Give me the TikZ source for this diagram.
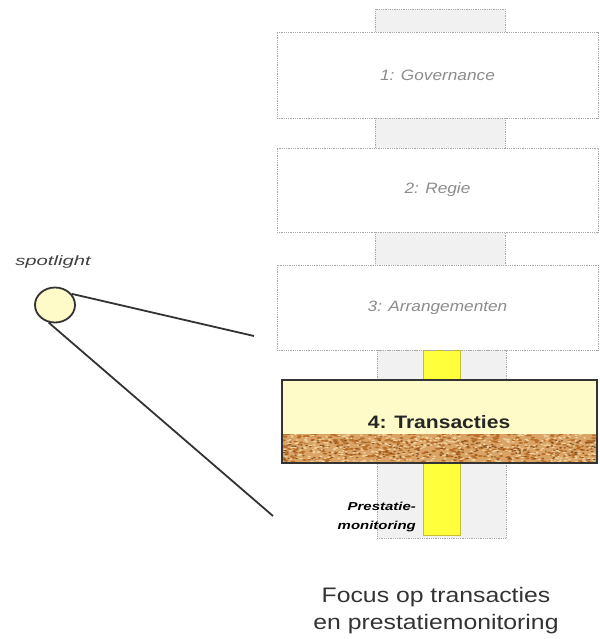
\documentclass[tikz,border=0pt]{standalone}
\usepackage{fontspec}
\setmainfont{Liberation Sans}
\usetikzlibrary{shapes.geometric}
\definecolor{lgray}{HTML}{A8A8A8}
\definecolor{tgray}{HTML}{8C8C8C}
\definecolor{cfill}{HTML}{F1F1F1}
\definecolor{pyel}{HTML}{FFFBC8}
\definecolor{syel}{HTML}{FFFF3C}
\definecolor{dline}{HTML}{333333}
\definecolor{tanA}{HTML}{D9A465}
\definecolor{tanB}{HTML}{B86E28}
\definecolor{tanC}{HTML}{F0D3A0}
\definecolor{tanD}{HTML}{8A5222}
\newcommand\wider[2]{\scalebox{#1}[1]{#2}}
\tikzset{
  layerbox/.style={draw=lgray, densely dotted, line width=0.8pt, fill=white, inner sep=0pt, text=tgray},
  linkbox/.style={draw=lgray, densely dotted, line width=0.8pt, fill=cfill, inner sep=0pt},
  beam/.style={draw=dline, line width=1.8pt},
}
\begin{document}
\begin{tikzpicture}[x=1pt,y=-1pt]
\useasboundingbox (0,0) rectangle (599,639);
% link bars behind layers
\node[linkbox, minimum width=130pt, minimum height=24pt] (k0) at (440,21) {};
\node[linkbox, minimum width=130pt, minimum height=32pt] (k1) at (440,133) {};
\node[linkbox, minimum width=130pt, minimum height=35pt] (k2) at (440,248) {};
\node[linkbox, minimum width=129pt, minimum height=188pt] (k3) at (441.5,444) {};
\node[draw=yellow!75!black, fill=syel, line width=0.6pt, minimum width=37pt, minimum height=185pt, inner sep=0pt] (col) at (442,442.5) {};
% layers
\node[layerbox, minimum width=321pt, minimum height=86pt] (b1) at (437.5,75) {\wider{1.15}{\fontsize{15}{18}\selectfont\itshape 1: Governance}};
\node[layerbox, minimum width=321pt, minimum height=84pt] (b2) at (437.5,190) {\wider{1.15}{\fontsize{15}{18}\selectfont\itshape 2: Regie}};
\node[layerbox, minimum width=321pt, minimum height=85pt] (b3) at (437.5,307.5) {\wider{1.15}{\fontsize{15}{18}\selectfont\itshape 3: Arrangementen}};
% layer 4
\node[fill=pyel, minimum width=315pt, minimum height=83pt, inner sep=0pt] (b4) at (439.5,421.5) {};
\begin{scope}
\clip (282,434) rectangle (597,463);
\fill[tanA] (282,434) rectangle (597,463);
\pgfmathsetseed{11}
\foreach \i in {1,...,450}{
  \pgfmathsetmacro\px{282+315*rnd}
  \pgfmathsetmacro\py{434+29*rnd}
  \fill[tanB] (\px,\py) ellipse (2.2 and 0.9);
}
\foreach \i in {1,...,450}{
  \pgfmathsetmacro\px{282+315*rnd}
  \pgfmathsetmacro\py{434+29*rnd}
  \fill[tanC] (\px,\py) ellipse (1.8 and 0.8);
}
\foreach \i in {1,...,220}{
  \pgfmathsetmacro\px{282+315*rnd}
  \pgfmathsetmacro\py{440+20*rnd}
  \fill[tanD] (\px,\py) ellipse (1.4 and 0.7);
}
\end{scope}
\draw[draw=dline, line width=1.8pt] (b4.north west) rectangle (b4.south east);
\node[font=\fontsize{18}{21}\selectfont\bfseries, text=black!85] (t4) at (439,422) {\wider{1.17}{4: Transacties}};
% prestatie label
\node[anchor=east, align=right, font=\fontsize{11.5}{19}\selectfont\bfseries\itshape, inner sep=0pt] (pm) at (416,517) {\wider{1.3}{Prestatie-}\\\wider{1.3}{monitoring}};
% spotlight
\node[ellipse, draw=dline, line width=1.8pt, fill=pyel, minimum width=40pt, minimum height=35pt, inner sep=0pt] (spot) at (55,305) {};
\node[font=\fontsize{13.5}{16}\selectfont\itshape, text=black!75] (sl) at (53,262) {\wider{1.5}{spotlight}};
\coordinate (e1) at (254,336);
\coordinate (e2) at (273,516);
\draw[beam] (spot.34) -- (e1);
\draw[beam] (spot.250) -- (e2);
% caption
\node[align=center, font=\fontsize{21}{27}\selectfont, text=black!80] (cap) at (436,611) {\wider{1.18}{Focus op transacties}\\\wider{1.18}{en prestatiemonitoring}};
\end{tikzpicture}
\end{document}
